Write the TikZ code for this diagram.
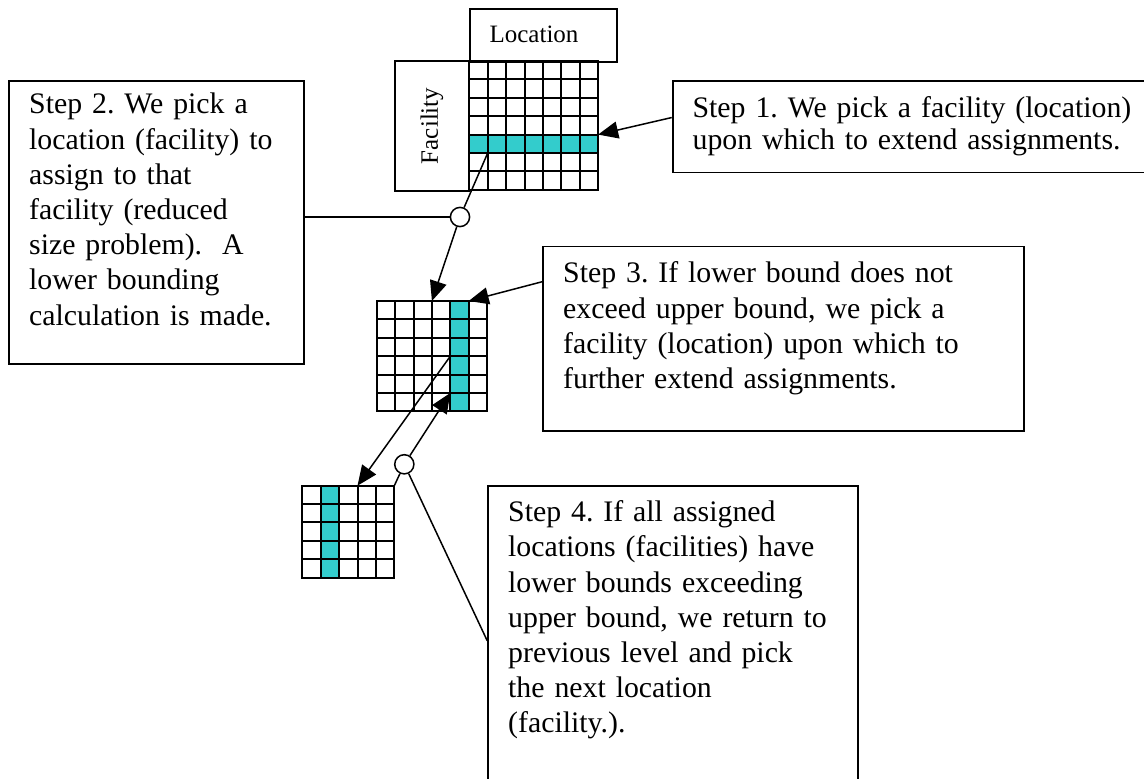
\documentclass[tikz,border=0pt]{standalone}
\usepackage{fontspec}
\setmainfont{Liberation Serif}
\usetikzlibrary{arrows.meta}
\frenchspacing
\definecolor{pickcol}{RGB}{51,204,204}
\tikzset{
  note/.style={draw, line width=0.9pt, anchor=north west, align=left,
               inner xsep=10pt, inner ysep=0pt, font=\fontsize{14.9}{17.6}\selectfont},
  hdr/.style={draw, line width=0.9pt, inner sep=0pt, font=\fontsize{12.5}{14}\selectfont},
  cell/.style={line width=1pt, line cap=rect},
  pick/.style={fill=pickcol},
  hub/.style={circle, draw, fill=white, line width=0.75pt, minimum size=9.6pt, inner sep=0pt},
  link/.style={line width=0.75pt},
  ptr/.style={line width=0.75pt, -{Triangle[length=10pt,width=8.5pt]}},
}
\begin{document}
\begin{tikzpicture}[x=0.5pt, y=-0.5pt]
  \useasboundingbox (0,0) rectangle (1144,779);
  \clip (0,0) rectangle (1144,779);
  \def\cs{18.4}
  % level 1: 7x7, one facility row picked
  \begin{scope}[shift={(469.3,61)}]
    \fill[pick] (0,4*\cs) rectangle (7*\cs,5*\cs);
    \foreach \i in {0,...,7} {
      \draw[cell] (\i*\cs,0) -- (\i*\cs,7*\cs);
      \draw[cell] (0,\i*\cs) -- (7*\cs,\i*\cs);
    }
    \coordinate (tg-pick) at (7*\cs,4*\cs);
    \coordinate (tg-out) at (\cs,5*\cs);
  \end{scope}
  % level 2: 6x6
  \begin{scope}[shift={(376.7,301)}]
    \fill[pick] (4*\cs,0) rectangle (5*\cs,6*\cs);
    \foreach \i in {0,...,6} {
      \draw[cell] (\i*\cs,0) -- (\i*\cs,6*\cs);
      \draw[cell] (0,\i*\cs) -- (6*\cs,\i*\cs);
    }
    \coordinate (mg-in) at (3*\cs,0);
    \coordinate (mg-pick) at (5*\cs,0);
    \coordinate (mg-out) at (4*\cs,3*\cs);
    \coordinate (mg-back) at (4*\cs,5*\cs);
  \end{scope}
  % level 3: 5x5
  \begin{scope}[shift={(302.3,485.7)}]
    \fill[pick] (\cs,0) rectangle (2*\cs,5*\cs);
    \foreach \i in {0,...,5} {
      \draw[cell] (\i*\cs,0) -- (\i*\cs,5*\cs);
      \draw[cell] (0,\i*\cs) -- (5*\cs,\i*\cs);
    }
    \coordinate (bg-in) at (3*\cs,0);
    \coordinate (bg-corner) at (5*\cs,0);
  \end{scope}

  \node[hdr, anchor=north west, text width=53.7pt, inner xsep=10pt, align=left,
        text height=16.7pt, text depth=9.65pt] (loc) at (468.7,8.3) {Location};
  \node[hdr, rotate=90, minimum width=64.85pt, minimum height=37pt] (fac) at (432,125.85) {Facility};

  \node[note, text width=240pt, text height=18.2pt, text depth=27.65pt,
        font=\fontsize{14.9}{16}\selectfont] (s1) at (671.7,80)
    {Step 1. We pick a facility (location)\\ upon which to extend assignments.};
  \node[note, text width=127.5pt, text height=16.5pt, text depth=125.15pt] (s2) at (8.3,80)
    {Step 2. We pick a\\ location (facility) to\\ assign to that\\ facility (reduced\\
     size problem).~ A\\ lower bounding\\ calculation is made.};
  \node[note, text width=220.2pt, text height=18.15pt, text depth=74pt] (s3) at (542.3,245.7)
    {Step 3. If lower bound does not\\ exceed upper bound, we pick a\\
     facility (location) upon which to\\ further extend assignments.};
  \node[note, text width=164.7pt, text height=17.9pt, text depth=137.1pt] (s4) at (487.3,485)
    {Step 4. If all assigned\\ locations (facilities) have\\ lower bounds exceeding\\
     upper bound, we return to\\ previous level and pick\\ the next location\\ (facility.).};

  \node[hub] (c1) at (460,217) {};
  \node[hub] (c2) at (404.3,464.3) {};

  \draw[ptr] ([yshift=4.6pt]s1.west) -- (tg-pick);
  \draw[link] (tg-out) -- (c1);
  \draw[link] (s2.east |- c1) -- (c1);
  \draw[ptr] (c1) -- (mg-in);
  \draw[ptr] ([yshift=-18pt]s3.north west) -- (mg-pick);
  \draw[ptr] (mg-out) -- (bg-in);
  \draw[link] (bg-corner) -- (c2);
  \draw[ptr] (c2) -- (mg-back);
  \draw[link] (c2) -- (s4.west);
\end{tikzpicture}
\end{document}
